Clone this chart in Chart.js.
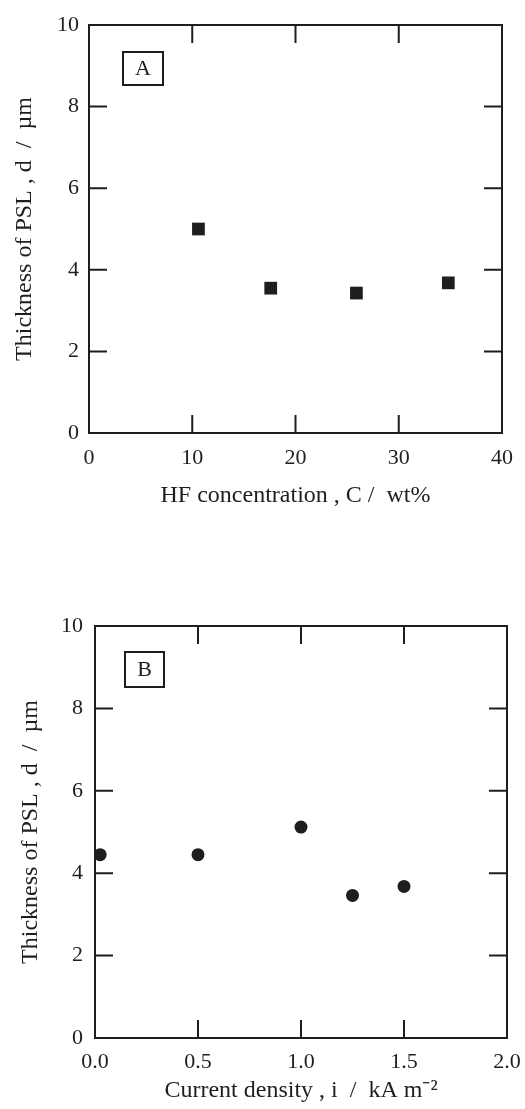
<!DOCTYPE html>
<html>
<head>
<meta charset="utf-8">
<script src="https://cdn.jsdelivr.net/npm/chart.js@4/dist/chart.umd.min.js"></script>
<style>
  html, body { margin: 0; padding: 0; background: #fff; }
  body { width: 525px; height: 1109px; position: relative; overflow: hidden; }
  .wrap { position: absolute; left: 0; width: 525px; }
  #wa { top: 0; height: 520px; }
  #wb { top: 555px; height: 554px; }
</style>
</head>
<body>
<div class="wrap" id="wa"><canvas id="ca"></canvas></div>
<div class="wrap" id="wb"><canvas id="cb"></canvas></div>
<script>
// ---- Data ----
const hfConcentration = [10.6, 17.6, 25.9, 34.8];          // wt%
const thicknessA = [5.0, 3.55, 3.43, 3.68];                 // µm
const currentDensity = [0.025, 0.5, 1.0, 1.25, 1.5];        // kA m^-2
const thicknessB = [4.45, 4.45, 5.12, 3.46, 3.68];          // µm

const xTicksA = [0, 10, 20, 30, 40];
const xTicksB = [0, 0.5, 1.0, 1.5, 2.0];
const yTicks = [0, 2, 4, 6, 8, 10];

const FONT = "'Liberation Serif', 'Times New Roman', serif";
const INK = '#1e1e1e';

function framePlugin(label, boxDx, boxDy, boxW, boxH) {
  return {
    id: 'frame' + label,
    afterDatasetsDraw(chart) {
      const {ctx, chartArea: a, scales: {x, y}} = chart;
      ctx.save();
      ctx.strokeStyle = INK;
      ctx.lineWidth = 2;
      ctx.strokeRect(a.left, a.top, a.right - a.left, a.bottom - a.top);
      const L = 18;
      ctx.beginPath();
      x.ticks.forEach(t => {
        const px = x.getPixelForValue(t.value);
        if (Math.abs(px - a.left) < 2 || Math.abs(px - a.right) < 2) return;
        ctx.moveTo(px, a.bottom); ctx.lineTo(px, a.bottom - L);
        ctx.moveTo(px, a.top); ctx.lineTo(px, a.top + L);
      });
      y.ticks.forEach(t => {
        const py = y.getPixelForValue(t.value);
        if (Math.abs(py - a.top) < 2 || Math.abs(py - a.bottom) < 2) return;
        ctx.moveTo(a.left, py); ctx.lineTo(a.left + L, py);
        ctx.moveTo(a.right, py); ctx.lineTo(a.right - L, py);
      });
      ctx.stroke();
      // panel label box
      const bx = a.left + boxDx, by = a.top + boxDy;
      ctx.lineWidth = 2;
      ctx.strokeRect(bx, by, boxW, boxH);
      ctx.fillStyle = INK;
      ctx.font = '22px ' + FONT;
      ctx.textAlign = 'center';
      ctx.textBaseline = 'middle';
      ctx.fillText(label, bx + boxW / 2, by + boxH / 2 + 1);
      ctx.restore();
    }
  };
}

function makeChart(id, xs, ys, xTicks, xmin, xmax, xTitle, pointStyle, radius, opts) {
  const pts = xs.map((v, i) => ({x: v, y: ys[i]}));
  return new Chart(document.getElementById(id), {
    type: 'scatter',
    data: {
      datasets: [{
        data: pts,
        pointStyle: pointStyle,
        pointRadius: radius,
        pointHoverRadius: radius,
        backgroundColor: INK,
        borderColor: INK,
        borderWidth: 0
      }]
    },
    options: {
      responsive: true,
      maintainAspectRatio: false,
      animation: false,
      events: [],
      layout: { padding: { top: opts.padTop, right: opts.padRight, bottom: 0, left: 0 } },
      plugins: { legend: { display: false }, tooltip: { enabled: false } },
      scales: {
        x: {
          type: 'linear', min: xmin, max: xmax,
          afterBuildTicks(s) { s.ticks = xTicks.map(v => ({value: v})); },
          grid: { display: false, drawTicks: false },
          border: { display: false },
          ticks: {
            color: INK, font: { family: FONT, size: 22 }, padding: opts.xTickPad,
            maxRotation: 0,
            callback: (v) => opts.xFmt(v)
          },
          title: {
            display: true, text: xTitle, color: INK,
            font: { family: FONT, size: 24 },
            padding: { top: 0, bottom: opts.xTitlePad }
          },
          afterFit(s) { s.height = opts.xHeight; s.paddingLeft = 0; s.paddingRight = 0; }
        },
        y: {
          type: 'linear', min: 0, max: 10,
          afterBuildTicks(s) { s.ticks = yTicks.map(v => ({value: v})); },
          grid: { display: false, drawTicks: false },
          border: { display: false },
          ticks: {
            color: INK, font: { family: FONT, size: 22 }, padding: opts.yTickPad
          },
          title: {
            display: true, text: 'Thickness of PSL , d  /  µm', color: INK,
            font: { family: FONT, size: 24 },
            padding: { top: opts.yTitlePad, bottom: 0 }
          },
          afterFit(s) { s.width = opts.yWidth; s.paddingTop = 0; s.paddingBottom = 0; }
        }
      }
    },
    plugins: [framePlugin(opts.label, opts.boxDx, opts.boxDy, opts.boxW, opts.boxH)]
  });
}

makeChart('ca', hfConcentration, thicknessA, xTicksA, 0, 40,
  'HF concentration , C /  wt%', 'rect', 9, {
    padTop: 25, padRight: 23, xHeight: 87, yWidth: 89,
    xTickPad: 12, yTickPad: 10,
    xTitlePad: 10, yTitlePad: 10,
    xFmt: v => String(v),
    label: 'A', boxDx: 34, boxDy: 27, boxW: 40, boxH: 33
  });

makeChart('cb', currentDensity, thicknessB, xTicksB, 0, 2,
  'Current density , i  /  kA m\u207B\u00B2', 'circle', 6.5, {
    padTop: 71, padRight: 18, xHeight: 71, yWidth: 95,
    xTickPad: 11, yTickPad: 12,
    xTitlePad: 4, yTitlePad: 16,
    xFmt: v => Number(v).toFixed(1),
    label: 'B', boxDx: 30, boxDy: 26, boxW: 39, boxH: 35
  });
</script>
</body>
</html>
